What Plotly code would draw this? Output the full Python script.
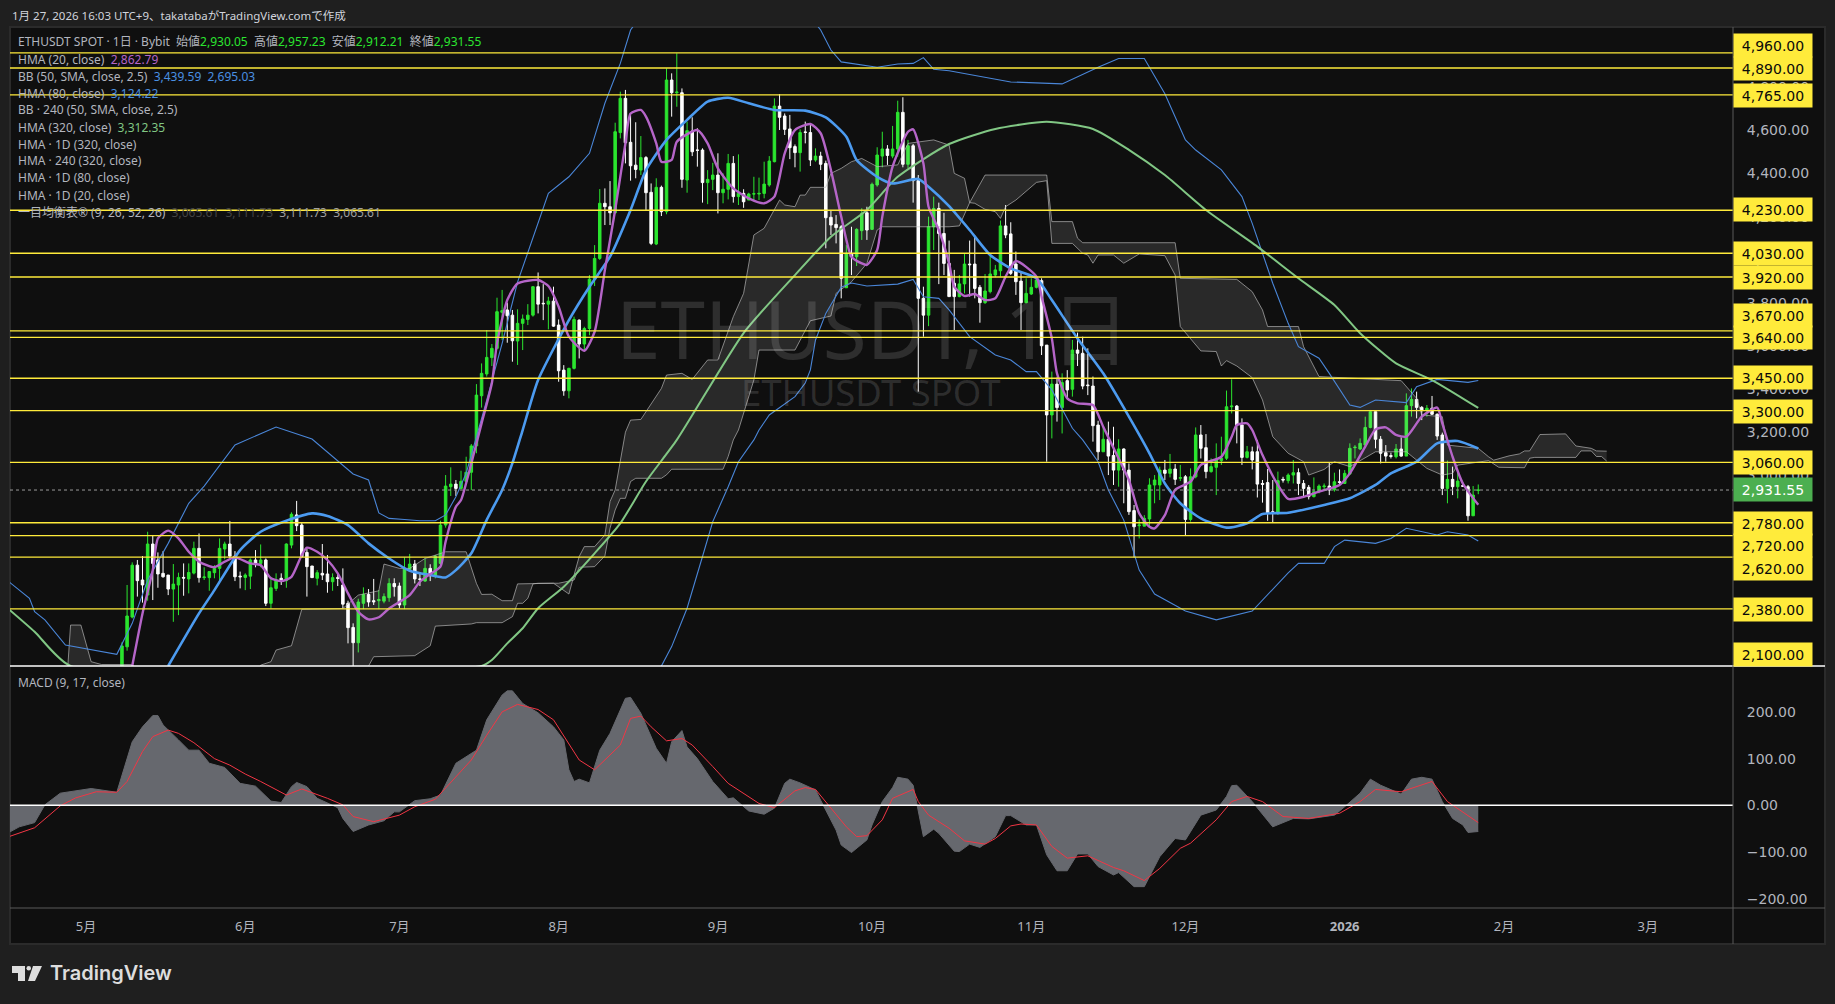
import pandas as pd
import plotly.graph_objects as go

# daily candles, 2025-05-08 to 2026-01-27 (one row per month)
candle_open = [
    1810,2204,2342,2583,2514,2444,2681,2607,2545,2537,2472,2491,2526,2519,2546,2661,2525,2525,2548,2568,2658,2681,2625,2532,
    2526,2532,2607,2591,2607,2406,2475,2522,2511,2676,2816,2769,2642,2579,2522,2545,2542,2506,2525,2491,2406,2294,2223,2406,2447,2418,2418,2416,2432,2498,
    2486,2398,2563,2588,2519,2509,2568,2537,2591,2769,2947,2959,2939,2972,3014,3136,3369,3470,3546,3589,3756,3767,3743,3623,3705,3723,3743,3875,3798,3794,3808,
    3697,3488,3392,3496,3720,3609,3681,3909,4006,4262,4246,4218,4590,4749,4545,4439,4416,4474,4313,4073,4336,4223,4834,4775,4775,4370,4597,4509,4509,4358,4373,
    4393,4311,4327,4447,4293,4308,4277,4305,4305,4308,4347,4455,4713,4667,4607,4525,4497,4593,4590,4463,4481,4447,4197,4164,4153,3870,4026,4014,4135,4218,
    4141,4347,4481,4514,4481,4514,4684,4443,4529,4367,3821,3743,4153,4238,4122,3983,3891,3829,3888,3980,3980,3872,3801,3852,3929,3949,4157,4120,3980,3901,3801,
    3841,3872,3903,3604,3280,3423,3314,3439,3399,3581,3566,3419,3414,3233,3109,3167,3092,3024,3122,3024,2836,2766,2764,2797,2955,2955,3024,3009,3029,2986,
    2993,2795,2993,3187,3128,3017,3037,3068,3079,3318,3321,3233,3083,3109,3109,2962,2966,2831,2823,2981,2975,3001,3012,2962,2944,2901,2924,2947,2950,2932,2970,
    2962,3006,3128,3122,3140,3222,3295,3167,3105,3091,3086,3122,3089,3323,3352,3315,3300,3311,3283,3187,2939,2981,2947,2952,2947,2812,2930.05,
]
candle_high = [
    2225,2491,2596,2607,2625,2738,2723,2642,2648,2537,2588,2548,2591,2591,2692,2730,2573,2556,2583,2707,2692,2788,2648,2553,
    2545,2614,2653,2679,2614,2529,2545,2545,2684,2828,2881,2780,2661,2579,2560,2681,2630,2545,2542,2568,2418,2313,2427,2480,2472,2519,2467,2452,2522,2522,
    2502,2619,2635,2607,2545,2614,2587,2630,2789,3001,3037,2978,3021,3086,3145,3423,3519,3674,3609,3824,3860,3801,3767,3770,3746,3794,3878,3941,3887,3828,3875,
    3723,3511,3499,3736,3723,3689,3929,4068,4328,4331,4365,4636,4780,4788,4672,4638,4574,4481,4354,4378,4344,4888,4865,4958,4795,4641,4661,4610,4517,4416,4450,
    4494,4401,4491,4481,4489,4327,4311,4385,4381,4455,4481,4749,4769,4679,4672,4535,4605,4641,4625,4517,4501,4460,4231,4207,4161,4068,4153,4146,4239,4246,
    4358,4522,4594,4532,4621,4738,4754,4556,4537,4393,3875,4200,4293,4265,4218,4089,3953,3929,4027,4089,4112,3883,3934,4027,3976,4182,4254,4174,4038,3945,3914,
    3914,3914,3914,3604,3481,3454,3473,3488,3628,3662,3643,3589,3458,3253,3225,3249,3225,3167,3125,3055,2862,2795,2815,2986,3001,3040,3071,3099,3052,3048,
    3001,3032,3222,3233,3191,3078,3148,3179,3393,3445,3326,3264,3136,3133,3164,2978,3029,2978,3017,2993,3009,3071,3032,2978,2955,2990,2958,2962,3058,3012,3027,
    3024,3148,3140,3171,3272,3303,3295,3182,3140,3105,3145,3176,3380,3403,3388,3321,3326,3368,3287,3198,3068,3040,3017,2966,2955,2950,2957.23,
]
candle_low = [
    1790,2186,2336,2437,2409,2418,2421,2478,2525,2444,2320,2351,2441,2452,2540,2502,2514,2464,2522,2511,2610,2607,2509,2475,
    2467,2472,2573,2573,2393,2382,2463,2491,2478,2661,2741,2619,2437,2525,2489,2514,2455,2464,2486,2382,2220,2112,2178,2379,2390,2398,2379,2406,2413,2437,
    2382,2379,2553,2498,2486,2506,2509,2522,2585,2757,2904,2904,2935,2970,2931,3102,3314,3458,3507,3584,3628,3615,3527,3512,3581,3697,3736,3751,3720,3677,3689,
    3434,3369,3357,3491,3542,3581,3650,3878,3999,4161,4161,4215,4563,4447,4367,4378,4393,4231,4068,4068,4203,4211,4664,4710,4334,4311,4481,4432,4265,4258,4323,
    4215,4262,4280,4265,4254,4241,4277,4277,4277,4285,4339,4452,4602,4579,4467,4429,4409,4540,4435,4455,4416,4053,4115,4076,3821,3870,3929,3971,4092,4092,
    4138,4339,4429,4440,4471,4478,4429,4424,4265,3388,3643,3692,4045,3887,3929,3829,3674,3826,3844,3829,3821,3708,3795,3844,3919,3922,4100,3929,3837,3674,3798,
    3837,3867,3558,3063,3171,3249,3194,3357,3365,3507,3399,3372,3156,3071,3109,3001,2955,2947,2870,2816,2619,2707,2764,2761,2870,2885,2978,2990,2955,2973,
    2718,2785,2986,3078,2986,3012,2908,3048,3071,3287,3148,3048,3078,3027,2897,2873,2789,2780,2816,2966,2962,2962,2908,2901,2888,2897,2916,2932,2908,2924,2958,
    2962,3001,3078,3117,3140,3218,3125,3055,3063,3078,3078,3086,3089,3272,3264,3256,3272,3280,3164,2908,2870,2908,2893,2947,2789,2811,2912.21,
]
candle_close = [
    2208,2347,2583,2511,2491,2681,2591,2542,2529,2472,2495,2526,2523,2549,2661,2525,2528,2553,2568,2661,2681,2625,2529,2529,
    2537,2607,2591,2607,2406,2478,2514,2511,2681,2819,2766,2622,2576,2525,2548,2537,2506,2525,2522,2402,2293,2223,2412,2447,2412,2413,2423,2437,2498,2483,
    2398,2568,2588,2519,2517,2568,2534,2625,2769,2950,2959,2939,2972,3014,3136,3372,3473,3547,3589,3759,3764,3740,3624,3705,3725,3743,3875,3794,3796,3808,3692,
    3485,3392,3496,3723,3609,3681,3910,4006,4262,4246,4218,4594,4749,4543,4436,4419,4474,4311,4076,4336,4223,4834,4775,4778,4373,4599,4501,4508,4358,4373,4393,
    4311,4327,4447,4293,4308,4269,4305,4306,4308,4351,4458,4713,4661,4605,4520,4497,4590,4591,4463,4481,4443,4195,4161,4149,3914,4030,4014,4141,4215,4138,
    4350,4486,4514,4484,4514,4684,4443,4529,4367,3821,3743,4153,4238,4122,3983,3829,3829,3888,3980,3977,3867,3801,3855,3934,3953,4157,4115,3937,3898,3801,3844,
    3872,3906,3601,3280,3423,3314,3430,3396,3581,3566,3414,3416,3230,3109,3167,3089,3024,3122,3024,2831,2761,2769,2800,2955,2978,3024,3009,3029,2981,2989,
    2795,2993,3187,3125,3017,3040,3071,3079,3318,3321,3233,3083,3109,3071,2959,2958,2826,2823,2975,2978,3001,3012,2962,2939,2901,2924,2950,2950,2932,2970,2967,
    3009,3125,3130,3148,3222,3295,3167,3102,3089,3088,3122,3089,3323,3352,3315,3300,3311,3283,3182,2939,2981,2947,2973,2949,2812,2908,2931.55,
]

hma20_dates = ['2025-05-10','2025-05-12','2025-05-14','2025-05-15','2025-05-17','2025-05-19','2025-05-21','2025-05-23','2025-05-26','2025-05-28','2025-05-30','2025-06-02','2025-06-04','2025-06-06','2025-06-08','2025-06-10','2025-06-12','2025-06-13','2025-06-15','2025-06-17','2025-06-19','2025-06-21','2025-06-23','2025-06-25','2025-06-27','2025-06-29','2025-07-03','2025-07-05','2025-07-07','2025-07-09','2025-07-10','2025-07-12','2025-07-13','2025-07-15','2025-07-17','2025-07-19','2025-07-20','2025-07-22','2025-07-24','2025-07-28','2025-07-30','2025-08-01','2025-08-03','2025-08-06','2025-08-08','2025-08-10','2025-08-12','2025-08-14','2025-08-15','2025-08-17','2025-08-18','2025-08-20','2025-08-21','2025-08-23','2025-08-24','2025-08-28','2025-08-30','2025-09-01','2025-09-04','2025-09-07','2025-09-10','2025-09-12','2025-09-14','2025-09-16','2025-09-19','2025-09-21','2025-09-23','2025-09-25','2025-09-27','2025-09-29','2025-09-30','2025-10-02','2025-10-03','2025-10-05','2025-10-08','2025-10-09','2025-10-11','2025-10-12','2025-10-14','2025-10-16','2025-10-17','2025-10-19','2025-10-21','2025-10-23','2025-10-25','2025-10-27','2025-10-29','2025-11-02','2025-11-03','2025-11-05','2025-11-06','2025-11-08','2025-11-10','2025-11-13','2025-11-15','2025-11-18','2025-11-20','2025-11-22','2025-11-24','2025-11-25','2025-11-27','2025-11-29','2025-12-02','2025-12-04','2025-12-08','2025-12-10','2025-12-11','2025-12-13','2025-12-14','2025-12-16','2025-12-19','2025-12-21','2025-12-24','2025-12-27','2025-12-31','2026-01-02','2026-01-05','2026-01-07','2026-01-09','2026-01-11','2026-01-13','2026-01-16','2026-01-19','2026-01-20','2026-01-22','2026-01-24','2026-01-27']
hma20 = [2115,2359,2560,2707,2743,2707,2645,2599,2573,2599,2619,2591,2583,2522,2509,2529,2630,2664,2645,2607,2545,2452,2367,2331,2341,2382,2444,2506,2542,2576,2692,2854,2885,3055,3241,3427,3612,3813,3890,3906,3878,3782,3643,3578,3666,3952,4231,4540,4679,4695,4664,4540,4455,4463,4548,4602,4540,4424,4331,4285,4262,4293,4494,4602,4630,4587,4416,4200,4014,3983,3976,4045,4200,4432,4594,4605,4447,4246,4138,3983,3875,3832,3841,3813,3821,3922,3994,3922,3829,3635,3473,3357,3334,3326,3225,3078,2978,2823,2761,2754,2815,2932,2970,3048,3086,3179,3233,3241,3210,3094,2955,2890,2900,2924,2955,3009,3133,3213,3222,3187,3179,3272,3314,3241,3086,2962,2862.79]

hma80_dates = ['2025-05-17','2025-05-23','2025-05-26','2025-05-31','2025-06-04','2025-06-09','2025-06-14','2025-06-17','2025-06-21','2025-06-25','2025-06-29','2025-07-03','2025-07-07','2025-07-10','2025-07-12','2025-07-15','2025-07-18','2025-07-21','2025-07-23','2025-07-25','2025-07-28','2025-08-03','2025-08-07','2025-08-11','2025-08-15','2025-08-18','2025-08-22','2025-08-26','2025-08-30','2025-09-03','2025-09-07','2025-09-12','2025-09-18','2025-09-22','2025-09-26','2025-09-28','2025-10-02','2025-10-05','2025-10-10','2025-10-12','2025-10-16','2025-10-20','2025-10-24','2025-10-28','2025-11-02','2025-11-05','2025-11-10','2025-11-15','2025-11-20','2025-11-24','2025-11-27','2025-11-30','2025-12-04','2025-12-09','2025-12-13','2025-12-16','2025-12-21','2025-12-28','2026-01-02','2026-01-07','2026-01-10','2026-01-15','2026-01-19','2026-01-23','2026-01-27']
hma80 = [2115,2359,2467,2653,2738,2789,2823,2811,2769,2684,2614,2557,2537,2526,2560,2638,2793,2932,3056,3210,3442,3720,3875,4014,4231,4416,4556,4649,4734,4752,4726,4695,4692,4661,4571,4463,4385,4354,4375,4339,4249,4138,4022,3960,3914,3813,3635,3473,3272,3102,2962,2870,2800,2757,2777,2820,2826,2862,2893,2955,3009,3063,3148,3159,3124.22]

hma320_dates = ['2025-04-16','2025-04-21','2025-04-28','2025-07-17','2025-07-19','2025-07-22','2025-07-25','2025-07-28','2025-08-02','2025-08-08','2025-08-13','2025-08-18','2025-08-24','2025-09-06','2025-09-16','2025-09-23','2025-09-30','2025-10-06','2025-10-16','2025-10-25','2025-11-04','2025-11-13','2025-11-20','2025-11-27','2025-12-05','2025-12-15','2025-12-23','2025-12-30','2026-01-04','2026-01-11','2026-01-18','2026-01-27']
hma320 = [2378,2274,2115,2115,2143,2220,2290,2383,2483,2638,2777,2971,3164,3660,3929,4107,4231,4385,4537,4607,4640,4607,4510,4393,4231,4061,3914,3790,3659,3519,3442,3312.35]

# Bollinger bands, the part above the chart is only a rough guess
bb_upper_dates = ['2025-04-16','2025-04-20','2025-04-21','2025-04-23','2025-04-27','2025-04-30','2025-05-07','2025-05-10','2025-05-13','2025-05-17','2025-05-21','2025-05-24','2025-05-30','2025-06-07','2025-06-14','2025-06-22','2025-06-25','2025-06-27','2025-06-29','2025-07-02','2025-07-05','2025-07-08','2025-07-10','2025-07-12','2025-07-14','2025-07-18','2025-07-21','2025-07-24','2025-07-27','2025-07-30','2025-08-03','2025-08-07','2025-08-10','2025-08-13','2025-08-15','2025-08-25','2025-09-10','2025-09-21','2025-09-23','2025-09-25','2025-10-02','2025-10-06','2025-10-09','2025-10-11','2025-10-13','2025-10-16','2025-10-28','2025-11-07','2025-11-14','2025-11-18','2025-11-23','2025-11-27','2025-12-01','2025-12-03','2025-12-08','2025-12-12','2025-12-14','2025-12-16','2025-12-18','2025-12-21','2025-12-23','2025-12-27','2025-12-29','2026-01-02','2026-01-04','2026-01-07','2026-01-13','2026-01-15','2026-01-19','2026-01-25','2026-01-27']
bb_upper = [2506,2429,2367,2329,2212,2200,2169,2313,2514,2684,2870,2950,3141,3224,3168,3006,2978,2825,2800,2795,2789,2789,2816,2900,3009,3349,3612,3896,4107,4308,4385,4494,4726,4911,5066,5400,5400,5066,4973,4918,4893,4908,4911,4938,4884,4877,4825,4816,4893,4934,4934,4770,4556,4509,4417,4293,4169,4030,3891,3705,3597,3543,3473,3326,3315,3349,3337,3411,3445,3431,3439.59]

bb_lower_dates = ['2025-08-19','2025-08-21','2025-08-23','2025-08-26','2025-08-29','2025-08-31','2025-09-03','2025-09-05','2025-09-08','2025-09-09','2025-09-11','2025-09-16','2025-09-18','2025-09-19','2025-09-20','2025-09-22','2025-09-25','2025-09-27','2025-09-30','2025-10-06','2025-10-09','2025-10-11','2025-10-14','2025-10-16','2025-10-20','2025-10-25','2025-10-28','2025-10-31','2025-11-02','2025-11-05','2025-11-09','2025-11-11','2025-11-14','2025-11-16','2025-11-19','2025-11-22','2025-11-25','2025-12-01','2025-12-07','2025-12-14','2025-12-21','2025-12-23','2025-12-28','2025-12-30','2026-01-01','2026-01-07','2026-01-10','2026-01-13','2026-01-19','2026-01-21','2026-01-25','2026-01-27']
bb_lower = [2000,2115,2205,2383,2623,2785,2947,3063,3164,3210,3280,3365,3428,3489,3628,3751,3873,3892,3878,3887,3909,3828,3821,3767,3643,3558,3535,3481,3481,3396,3218,3164,3063,2932,2792,2560,2449,2370,2329,2370,2547,2591,2591,2669,2699,2684,2707,2754,2723,2738,2723,2695.03]

# Ichimoku cloud spans, including the 26 days projected past the last candle
span_a_dates = ['2025-04-27','2025-04-28','2025-04-30','2025-05-02','2025-05-04','2025-05-10','2025-05-12','2025-06-03','2025-06-04','2025-06-06','2025-06-07','2025-06-10','2025-06-12','2025-06-20','2025-06-23','2025-06-27','2025-06-28','2025-07-01','2025-07-03','2025-07-06','2025-07-10','2025-07-14','2025-07-16','2025-07-17','2025-07-19','2025-07-21','2025-07-23','2025-07-24','2025-07-31','2025-08-03','2025-08-04','2025-08-05','2025-08-06','2025-08-08','2025-08-10','2025-08-11','2025-08-12','2025-08-13','2025-08-14','2025-08-15','2025-08-17','2025-08-21','2025-08-22','2025-08-25','2025-08-27','2025-08-30','2025-09-01','2025-09-04','2025-09-06','2025-09-08','2025-09-10','2025-09-13','2025-09-14','2025-09-16','2025-09-17','2025-09-18','2025-09-19','2025-09-22','2025-09-23','2025-09-25','2025-09-27','2025-09-29','2025-10-02','2025-10-06','2025-10-08','2025-10-13','2025-10-16','2025-10-17','2025-10-19','2025-10-20','2025-10-21','2025-10-23','2025-10-25','2025-10-26','2025-10-27','2025-10-29','2025-11-02','2025-11-04','2025-11-05','2025-11-09','2025-11-11','2025-11-12','2025-11-13','2025-11-14','2025-11-17','2025-11-19','2025-11-22','2025-11-27','2025-11-29','2025-11-30','2025-12-04','2025-12-07','2025-12-08','2025-12-09','2025-12-11','2025-12-14','2025-12-16','2025-12-18','2025-12-21','2025-12-24','2025-12-25','2025-12-28','2025-12-30','2026-01-02','2026-01-07','2026-01-13','2026-01-17','2026-01-20','2026-01-22','2026-01-23','2026-01-29','2026-01-31','2026-02-05','2026-02-06','2026-02-07','2026-02-15','2026-02-16','2026-02-18','2026-02-19','2026-02-20','2026-02-21']
span_a = [1950,2305,2305,2135,2122,2122,2050,2050,2119,2135,2189,2209,2378,2382,2444,2464,2588,2568,2568,2614,2645,2645,2498,2447,2448,2418,2418,2496,2499,2449,2537,2623,2669,2669,2723,2878,2932,3071,3200,3256,3259,3403,3465,3473,3445,3535,3535,3736,3844,4115,4146,4277,4254,4246,4300,4300,4336,4336,4401,4424,4455,4470,4432,4440,4540,4556,4532,4401,4378,4265,4262,4234,4223,4192,4246,4277,4359,4367,4076,4076,4030,4022,3984,4022,4022,3984,4027,4019,3929,3690,3577,3574,3507,3532,3507,3453,3349,3179,3102,3063,3001,3027,3063,3040,3109,3109,3032,3001,3009,3047,3068,3037,3035,3079,3083,3083,3113,3113,3087,3087,3065.61]

span_b_dates = ['2025-04-27','2025-06-24','2025-06-25','2025-06-26','2025-07-04','2025-07-07','2025-07-08','2025-07-15','2025-07-16','2025-07-21','2025-07-23','2025-07-24','2025-07-25','2025-07-26','2025-07-27','2025-07-28','2025-08-01','2025-08-04','2025-08-05','2025-08-08','2025-08-10','2025-08-11','2025-08-12','2025-08-13','2025-08-14','2025-08-15','2025-08-16','2025-08-21','2025-08-22','2025-08-23','2025-09-02','2025-09-03','2025-09-04','2025-09-05','2025-09-08','2025-09-09','2025-09-16','2025-09-19','2025-09-23','2025-09-24','2025-09-27','2025-09-30','2025-10-02','2025-10-03','2025-10-16','2025-10-18','2025-10-20','2025-10-23','2025-11-04','2025-11-05','2025-11-09','2025-11-10','2025-11-11','2025-11-29','2025-11-30','2025-12-11','2025-12-14','2025-12-16','2025-12-17','2025-12-23','2025-12-24','2025-12-27','2026-01-12','2026-01-15','2026-01-16','2026-01-20','2026-01-21','2026-01-27','2026-01-29','2026-01-30','2026-02-02','2026-02-04','2026-02-05','2026-02-06','2026-02-08','2026-02-13','2026-02-15','2026-02-18','2026-02-19','2026-02-21']
span_b = [1950,2050,2115,2158,2163,2209,2300,2310,2316,2316,2344,2406,2406,2429,2496,2499,2499,2514,2573,2576,2626,2754,2839,2893,2893,2971,2986,2986,3002,3028,3028,3087,3164,3210,3442,3581,3581,3717,3739,3844,3898,3983,4138,4153,4153,4157,4265,4393,4393,4177,4177,4100,4079,4079,3914,3909,3852,3767,3690,3690,3597,3458,3439,3357,3280,3272,3140,3125,3086,3070,3090,3099,3113,3113,3189,3192,3136,3125,3113,3111.73]

# MACD pane
macd_dates = ['2025-04-16','2025-04-18','2025-04-21','2025-04-23','2025-04-26','2025-04-29','2025-05-02','2025-05-07','2025-05-10','2025-05-12','2025-05-14','2025-05-15','2025-05-16','2025-05-19','2025-05-21','2025-05-23','2025-05-25','2025-05-28','2025-05-31','2025-06-03','2025-06-06','2025-06-08','2025-06-10','2025-06-11','2025-06-13','2025-06-15','2025-06-19','2025-06-20','2025-06-22','2025-06-25','2025-06-28','2025-06-30','2025-07-01','2025-07-04','2025-07-07','2025-07-09','2025-07-12','2025-07-16','2025-07-18','2025-07-21','2025-07-22','2025-07-23','2025-07-25','2025-07-28','2025-07-31','2025-08-02','2025-08-03','2025-08-04','2025-08-05','2025-08-07','2025-08-09','2025-08-11','2025-08-14','2025-08-15','2025-08-17','2025-08-20','2025-08-22','2025-08-23','2025-08-25','2025-08-26','2025-08-28','2025-08-31','2025-09-03','2025-09-04','2025-09-07','2025-09-10','2025-09-12','2025-09-14','2025-09-15','2025-09-17','2025-09-20','2025-09-21','2025-09-23','2025-09-24','2025-09-25','2025-09-27','2025-09-30','2025-10-01','2025-10-03','2025-10-05','2025-10-06','2025-10-08','2025-10-09','2025-10-10','2025-10-11','2025-10-13','2025-10-14','2025-10-17','2025-10-18','2025-10-20','2025-10-22','2025-10-25','2025-10-27','2025-10-28','2025-10-31','2025-11-02','2025-11-04','2025-11-06','2025-11-08','2025-11-10','2025-11-12','2025-11-14','2025-11-17','2025-11-18','2025-11-21','2025-11-23','2025-11-26','2025-11-29','2025-12-01','2025-12-04','2025-12-07','2025-12-09','2025-12-10','2025-12-11','2025-12-14','2025-12-18','2025-12-22','2025-12-25','2025-12-30','2026-01-01','2026-01-04','2026-01-06','2026-01-08','2026-01-12','2026-01-14','2026-01-16','2026-01-18','2026-01-20','2026-01-22','2026-01-24','2026-01-25','2026-01-27']
macd = [-58,-46,-37,1,26,31,36,28,136,168,192,192,172,140,118,118,90,81,47,41,9,6,40,49,40,15,-5,-28,-56,-42,-33,-14,-14,10,14,22,90,118,183,236,245,245,218,198,168,140,76,51,56,48,118,154,229,231,197,122,90,136,160,125,100,51,14,16,-12,-19,-6,47,56,48,33,11,-31,-53,-85,-101,-74,-42,8,38,60,56,43,-10,-67,-51,-60,-98,-99,-83,-90,-67,-22,-22,-42,-42,-106,-140,-140,-104,-104,-131,-149,-144,-174,-174,-110,-71,-74,-21,-10,19,42,43,8,-46,-28,-29,-21,-3,26,56,43,24,56,60,56,8,-28,-42,-58,-56]

signal_dates = ['2025-04-16','2025-04-21','2025-04-26','2025-04-29','2025-05-03','2025-05-07','2025-05-09','2025-05-12','2025-05-14','2025-05-17','2025-05-19','2025-05-22','2025-05-26','2025-05-29','2025-06-01','2025-06-04','2025-06-09','2025-06-12','2025-06-17','2025-06-20','2025-06-22','2025-06-26','2025-07-01','2025-07-04','2025-07-08','2025-07-12','2025-07-15','2025-07-18','2025-07-21','2025-07-24','2025-07-28','2025-07-31','2025-08-03','2025-08-05','2025-08-08','2025-08-13','2025-08-15','2025-08-17','2025-08-19','2025-08-22','2025-08-25','2025-08-27','2025-08-31','2025-09-03','2025-09-09','2025-09-12','2025-09-16','2025-09-18','2025-09-20','2025-09-22','2025-09-26','2025-09-28','2025-09-30','2025-10-03','2025-10-05','2025-10-09','2025-10-10','2025-10-12','2025-10-16','2025-10-19','2025-10-23','2025-10-25','2025-10-28','2025-10-30','2025-11-02','2025-11-05','2025-11-08','2025-11-12','2025-11-17','2025-11-19','2025-11-23','2025-11-26','2025-11-30','2025-12-02','2025-12-07','2025-12-10','2025-12-13','2025-12-16','2025-12-20','2025-12-25','2025-12-31','2026-01-04','2026-01-07','2026-01-12','2026-01-18','2026-01-21','2026-01-27']
signal = [-67,-48,-1,16,29,28,51,115,147,161,154,134,100,86,67,51,22,35,15,1,-24,-35,-21,-3,13,61,97,150,200,216,205,183,133,97,76,129,186,191,168,138,143,129,83,47,4,-5,31,38,34,8,-46,-67,-65,-31,15,34,8,-21,-49,-76,-83,-71,-44,-40,-42,-88,-113,-108,-133,-140,-161,-135,-92,-81,-31,8,19,8,-24,-28,-17,8,34,29,51,8,-37]

# horizontal levels and right hand price labels
yellow_levels = [4960, 4890, 4765, 4230, 4030, 3920, 3670, 3640, 3450, 3300, 3060, 2780, 2720, 2620, 2380]
level_labels = ['4,960.00','4,890.00','4,765.00','4,230.00','4,030.00','3,920.00','3,670.00','3,640.00','3,450.00','3,300.00','3,060.00','2,780.00','2,720.00','2,620.00','2,380.00','2,100.00']
last_price = 2931.55
price_ticks = [4800, 4600, 4400, 4200, 4000, 3800, 3600, 3400, 3200, 3000, 2800, 2200]
macd_ticks = [200, 100, 0, -100, -200]
month_ticks = ['2025-05-01','2025-06-01','2025-07-01','2025-08-01','2025-09-01','2025-10-01','2025-11-01','2025-12-01','2026-01-01','2026-02-01','2026-03-01']
month_names = ['5月','6月','7月','8月','9月','10月','11月','12月','<b>2026</b>','2月','3月']

# page geometry in pixels
W, H = 1835, 1004
LEFT, RIGHT, TOP, BOTTOM = 10, 1733, 27, 908
PANE_SPLIT = 666

def px_x(x):
    return (x - LEFT) / (RIGHT - LEFT)

def px_y(y):
    return 1 - (y - TOP) / (BOTTOM - TOP)

UP = '#2be52f'
GREY = '#b2b5be'
YELLOW = '#ffeb3b'
BB_BLUE = '#4a86d8'
CLOUD = 'rgba(190,190,190,0.65)'
ASCII_FONT = 'Noto Sans, Noto Sans CJK JP, sans-serif'
AXIS_FONT = 'DejaVu Sans'

candle_dates = pd.date_range('2025-05-08', periods=len(candle_open))

fig = go.Figure()

fig.add_trace(go.Candlestick(x=candle_dates, open=candle_open, high=candle_high, low=candle_low, close=candle_close,
                             increasing=dict(line=dict(color=UP, width=1), fillcolor=UP),
                             decreasing=dict(line=dict(color='#ffffff', width=1), fillcolor='#ffffff'),
                             whiskerwidth=0, hoverinfo='skip'))

# cloud as a closed polygon, then both edges on top
fig.add_trace(go.Scatter(x=span_a_dates + span_b_dates[::-1], y=span_a + span_b[::-1], fill='toself', mode='none',
                         fillcolor='rgba(255,255,255,0.11)', hoverinfo='skip'))
for cloud_x, cloud_y in [(span_a_dates, span_a), (span_b_dates, span_b)]:
    fig.add_trace(go.Scatter(x=cloud_x, y=cloud_y, mode='lines', line=dict(color=CLOUD, width=1), hoverinfo='skip'))

fig.add_trace(go.Scatter(x=bb_upper_dates, y=bb_upper, mode='lines', line=dict(color=BB_BLUE, width=1.1), hoverinfo='skip'))
fig.add_trace(go.Scatter(x=bb_lower_dates, y=bb_lower, mode='lines', line=dict(color=BB_BLUE, width=1.1), hoverinfo='skip'))

# HMA 320 has a gap where it runs under the pane, the range clips it
fig.add_trace(go.Scatter(x=hma320_dates, y=hma320, mode='lines', line=dict(color='#81c784', width=2, shape='spline', smoothing=0.6), hoverinfo='skip'))
fig.add_trace(go.Scatter(x=hma80_dates, y=hma80, mode='lines', line=dict(color='#4c9bf0', width=2.6, shape='spline', smoothing=0.6), hoverinfo='skip'))
fig.add_trace(go.Scatter(x=hma20_dates, y=hma20, mode='lines', line=dict(color='#b565c8', width=2.4, shape='spline', smoothing=0.6), hoverinfo='skip'))

fig.add_trace(go.Scatter(x=macd_dates, y=macd, yaxis='y2', mode='lines', fill='tozeroy', fillcolor='#66686e',
                         line=dict(color='#66686e', width=1), hoverinfo='skip'))
fig.add_trace(go.Scatter(x=signal_dates, y=signal, yaxis='y2', mode='lines', line=dict(color='#f23645', width=1), hoverinfo='skip'))

shapes = []
# panel background and frame, drawn under everything
shapes.append(dict(type='rect', xref='paper', yref='paper', layer='below',
                   x0=px_x(LEFT), x1=px_x(1825), y0=px_y(944), y1=px_y(TOP),
                   fillcolor='#0f0f0f', line=dict(color='#2b2b2b', width=2)))
for level in yellow_levels:
    shapes.append(dict(type='line', xref='paper', yref='y', x0=0, x1=1, y0=level, y1=level, line=dict(color=YELLOW, width=1.4)))
shapes.append(dict(type='line', xref='paper', yref='y', x0=0, x1=1, y0=last_price, y1=last_price, line=dict(color='#9a9a9a', width=1, dash='dot')))
shapes.append(dict(type='line', xref='paper', yref='y2', x0=0, x1=1, y0=0, y1=0, line=dict(color='#ffffff', width=1.5)))
# pane separators
shapes.append(dict(type='line', xref='paper', yref='paper', x0=px_x(LEFT), x1=px_x(1825), y0=px_y(PANE_SPLIT), y1=px_y(PANE_SPLIT), line=dict(color='#ffffff', width=1.5)))
shapes.append(dict(type='line', xref='paper', yref='paper', x0=px_x(LEFT), x1=px_x(1825), y0=px_y(BOTTOM), y1=px_y(BOTTOM), line=dict(color='#5a5a5a', width=1)))
shapes.append(dict(type='line', xref='paper', yref='paper', x0=1, x1=1, y0=px_y(944), y1=px_y(TOP), line=dict(color='#5a5a5a', width=1)))


def logo_path(points):
    return 'M ' + ' L '.join(f'{px_x(x):.5f},{px_y(y):.5f}' for x, y in points) + ' Z'

# TradingView mark
shapes.append(dict(type='path', xref='paper', yref='paper', fillcolor='#dddddd', line=dict(width=0),
                   path=logo_path([(12, 966), (25, 966), (25, 981), (18, 981), (18, 973), (12, 973)])))
shapes.append(dict(type='circle', xref='paper', yref='paper', fillcolor='#dddddd', line=dict(width=0),
                   x0=px_x(26.5), x1=px_x(31), y0=px_y(970.5), y1=px_y(966)))
shapes.append(dict(type='path', xref='paper', yref='paper', fillcolor='#dddddd', line=dict(width=0),
                   path=logo_path([(33, 966), (42, 966), (35, 981), (28, 981)])))

annotations = []


def add_text(text, x, y, size=12, color=GREY, anchor='left', family=ASCII_FONT, weight=None):
    font = dict(size=size, color=color, family=family)
    if weight:
        font['weight'] = weight
    annotations.append(dict(text=text, xref='paper', yref='paper', x=px_x(x), y=px_y(y), xanchor=anchor, yanchor='middle',
                            showarrow=False, font=font))

add_text('ETHUSDT, 1日', 873, 327, size=80, color='rgba(255,255,255,0.13)', anchor='center')
add_text('ETHUSDT SPOT', 871, 392, size=36.5, color='rgba(255,255,255,0.13)', anchor='center')

add_text('1月 27, 2026 16:03 UTC+9、takatabaがTradingView.comで作成', 10, 15, size=11.5, color='#d1d4dc')


def val(text, color):
    return f'<span style="color:{color}">{text}</span>'

legend_rows = [
    'ETHUSDT SPOT · 1日 · Bybit  始値' + val('2,930.05', UP) + '  高値' + val('2,957.23', UP) + '  安値' + val('2,912.21', UP) + '  終値' + val('2,931.55', UP),
    'HMA (20, close)  ' + val('2,862.79', '#b565c8'),
    'BB (50, SMA, close, 2.5)  ' + val('3,439.59', '#4a90e2') + '  ' + val('2,695.03', '#4a90e2'),
    'HMA (80, close)  ' + val('3,124.22', '#4a90e2'),
    'BB · 240 (50, SMA, close, 2.5)',
    'HMA (320, close)  ' + val('3,312.35', '#81c784'),
    'HMA · 1D (320, close)',
    'HMA · 240 (320, close)',
    'HMA · 1D (80, close)',
    'HMA · 1D (20, close)',
    '一目均衡表® (9, 26, 52, 26)  ' + val('3,065.61', '#444444') + '  ' + val('3,111.73', '#444444') + '  ' + val('3,111.73', '#a0a0a0') + '  ' + val('3,065.61', '#a0a0a0'),
]
legend_y = 42
for row in legend_rows:
    add_text(row, 16, legend_y, size=12)
    legend_y += 17
add_text('MACD (9, 17, close)', 16, 682, size=12)

# price labels, stacked like the platform does so they never overlap
label_centres = [45, 68, 95, 210, 253, 277, 315, 338, 378, 411, 462, 523, 545, 568, 609, 654]
for text, centre in zip(level_labels, label_centres):
    annotations.append(dict(text=text, xref='paper', yref='paper', x=1, y=px_y(centre), xanchor='left', yanchor='middle',
                            showarrow=False, width=78, height=23, align='center', bgcolor=YELLOW, borderpad=0,
                            font=dict(size=14, color='#0a0a0a', family=AXIS_FONT)))
annotations.append(dict(text='2,931.55', xref='paper', yref='paper', x=1, y=px_y(490), xanchor='left', yanchor='middle',
                        showarrow=False, width=78, height=23, align='center', bgcolor='#4caf50', borderpad=0,
                        font=dict(size=14, color='#ffffff', family=AXIS_FONT)))

add_text('TradingView', 48, 973, size=20, color='#dddddd', family='Inter', weight=600)

fig.update_layout(
    width=W, height=H,
    margin=dict(l=LEFT, r=W - RIGHT, t=TOP, b=H - BOTTOM, pad=0),
    paper_bgcolor='#1f1f1f', plot_bgcolor='rgba(0,0,0,0)',
    showlegend=False, hovermode=False,
    shapes=shapes, annotations=annotations,
    xaxis=dict(type='date', range=['2025-04-16 05:00', '2026-03-17 14:00'], anchor='y2',
               rangeslider=dict(visible=False), showgrid=False, zeroline=False, showline=False,
               tickmode='array', tickvals=month_ticks, ticktext=month_names, ticks='outside', ticklen=6, tickcolor='rgba(0,0,0,0)',
               tickfont=dict(size=13, color=GREY, family=ASCII_FONT)),
    yaxis=dict(domain=[px_y(PANE_SPLIT), 1], range=[2115, 5080], side='right', showgrid=False, zeroline=False, showline=False,
               tickmode='array', tickvals=price_ticks, tickformat=',.2f', ticks='outside', ticklen=10, tickcolor='rgba(0,0,0,0)',
               tickfont=dict(size=14, color=GREY, family=AXIS_FONT)),
    yaxis2=dict(domain=[0, px_y(PANE_SPLIT + 1)], range=[-219.7, 296], side='right', showgrid=False, zeroline=False, showline=False,
                anchor='x', tickmode='array', tickvals=macd_ticks, tickformat=',.2f', ticks='outside', ticklen=10, tickcolor='rgba(0,0,0,0)',
                tickfont=dict(size=14, color=GREY, family=AXIS_FONT)),
)

fig.write_html("out.html", config=dict(displayModeBar=False),
               post_script="document.body.style.margin='0';document.body.style.overflow='hidden';")
